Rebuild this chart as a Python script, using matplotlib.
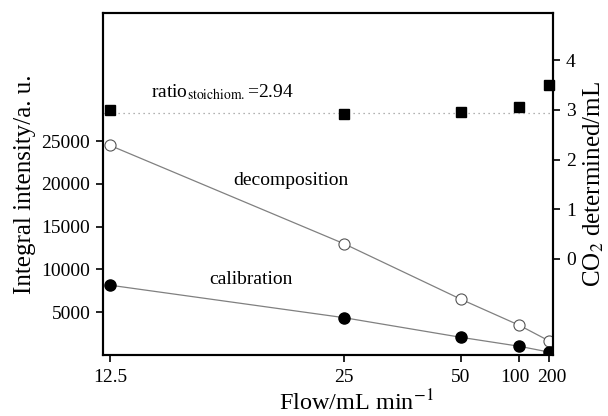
import numpy as np
import matplotlib
matplotlib.use('Agg')
import matplotlib.pyplot as plt
from matplotlib.ticker import FixedLocator, FixedFormatter, NullLocator
from matplotlib.transforms import ScaledTranslation

plt.rcParams['font.family'] = ['Liberation Serif', 'DejaVu Serif']
plt.rcParams['mathtext.fontset'] = 'stix'

# data
flow = [12.5, 25, 50, 100, 200]
decomposition = [24500, 13000, 6500, 3450, 1650]
calibration = [8150, 4350, 2050, 1000, 330]
co2_ratio = [2.99, 2.91, 2.96, 3.05, 3.49]
ratio_stoich = 2.94

xticks = [12.5, 25, 50, 100, 200]
xticklabels = ['12.5', '25', '50', '100', '200']
left_ticks = [5000, 10000, 15000, 20000, 25000]
right_ticks = [0, 1, 2, 3, 4]


def fwd(x):
    with np.errstate(divide='ignore', invalid='ignore'):
        return -1.0 / np.asarray(x, dtype=float)


def inv(y):
    with np.errstate(divide='ignore', invalid='ignore'):
        return -1.0 / np.asarray(y, dtype=float)


fig = plt.figure(figsize=(6.08, 4.16), dpi=100)
ax = fig.add_axes([0.169, 0.147, 0.741, 0.822])
ax.set_xscale('function', functions=(fwd, inv))

line_c = '#808080'
ax.plot(flow, decomposition, '-', color=line_c, lw=0.9, marker='o', ms=8,
        mfc='white', mec='#555555', mew=0.8)
ax.plot(flow, calibration, '-', color=line_c, lw=0.9, marker='o', ms=8,
        mfc='black', mec='black')

ax.set_xlim(12.31, 237)
ax.set_ylim(0, 40000)
ax.xaxis.set_major_locator(FixedLocator(xticks))
ax.xaxis.set_major_formatter(FixedFormatter(xticklabels))
ax.xaxis.set_minor_locator(NullLocator())
ax.yaxis.set_major_locator(FixedLocator(left_ticks))
ax.yaxis.set_minor_locator(NullLocator())

ax2 = ax.twinx()
ax2.axhline(ratio_stoich, color='#999999', lw=0.9, ls=(0, (1, 3)))
ax2.plot(flow, co2_ratio, 's', color='black', ms=6.5, clip_on=False, zorder=5)
ax2.set_ylim(-1.93, 4.95)
ax2.yaxis.set_major_locator(FixedLocator(right_ticks))
ax2.yaxis.set_minor_locator(NullLocator())

for a in (ax, ax2):
    for s in a.spines.values():
        s.set_linewidth(1.5)
    a.tick_params(direction='out', length=5, width=1.2, labelsize=14, pad=4)
ax.tick_params(axis='x', pad=5)

ax.set_xlabel('Flow/mL min$^{-1}$', fontsize=17.5, va='center')
ax.xaxis.set_label_coords(0.562, -0.138)
ax.set_ylabel('Integral intensity/a. u.', fontsize=18, labelpad=4)
ax2.set_ylabel('CO$_2$ determined/mL', fontsize=18, labelpad=4)

ax.text(13.7, 30100, r'ratio$_{\mathrm{stoichiom.}}$=2.94', fontsize=14,
        ha='left', va='baseline')
ax.text(20.4, 20350, 'decomposition', fontsize=14, ha='center', va='center')
ax.text(17.9, 8800, 'calibration', fontsize=14, ha='center', va='center')

# nudge the crowded 100 / 200 labels apart like the original
shifts = {'100': -4.5, '200': 3.0}
for tick, lab in zip(ax.xaxis.get_major_ticks(), xticklabels):
    if lab in shifts:
        off = ScaledTranslation(shifts[lab] / 100.0, 0, fig.dpi_scale_trans)
        tick.label1.set_transform(tick.label1.get_transform() + off)

fig.savefig('out.png', dpi=100)
